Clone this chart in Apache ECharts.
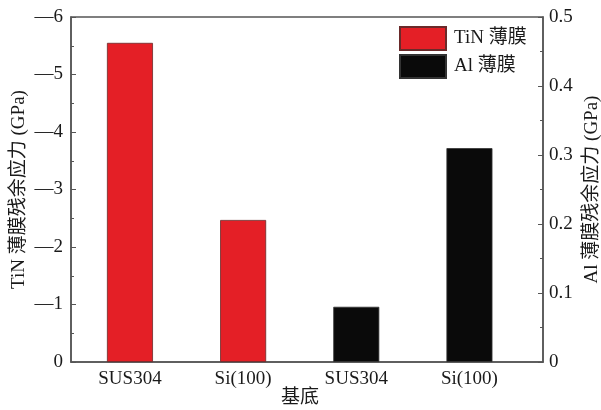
<!DOCTYPE html>
<html>
<head>
<meta charset="utf-8">
<script src="https://cdn.jsdelivr.net/npm/echarts@6/dist/echarts.min.js"></script>
<style>
  html, body { margin: 0; padding: 0; background: #fff; }
  #chart { width: 601px; height: 410px; }
</style>
</head>
<body>
<div id="chart"></div>
<script>
// Substrates along the x axis (positions 1..4)
const substrates = ['SUS304', 'Si(100)', 'SUS304', 'Si(100)'];
// TiN film residual stress (GPa), left axis, on substrates 1 and 2
const tinPositions = [1, 2];
const tinStress = [-5.55, -2.47];
// Al film residual stress (GPa), right axis, on substrates 3 and 4
const alPositions = [3, 4];
const alStress = [0.08, 0.31];
// Tick values
const leftTicks = { min: -6, max: 0, interval: 1 };
const rightTicks = { min: 0, max: 0.5, interval: 0.1 };

const FONT = "'Liberation Serif', 'Times New Roman', 'Noto Sans CJK SC', serif";
const AXIS_COLOR = '#555';
const TEXT_COLOR = '#1a1a1a';

const chart = echarts.init(document.getElementById('chart'));

chart.setOption({
  backgroundColor: '#fff',
  animation: false,
  grid: {
    left: 71, right: 58, top: 17, bottom: 48,
    outerBoundsMode: 'none',
    containLabel: false,
    show: true, borderColor: AXIS_COLOR, borderWidth: 1.5,
    backgroundColor: 'transparent'
  },
  legend: {
    left: 399, top: 26, orient: 'vertical', padding: 0,
    itemWidth: 46, itemHeight: 23, itemGap: 3,
    icon: 'rect',
    textStyle: { fontFamily: FONT, fontSize: 19, color: TEXT_COLOR, padding: [0, 0, 0, 3] },
    data: ['TiN 薄膜', 'Al 薄膜']
  },
  xAxis: {
    type: 'value',
    min: 0.479, max: 4.65,
    splitLine: { show: false },
    axisLine: { show: true, onZero: false, lineStyle: { color: AXIS_COLOR, width: 1.5 } },
    axisTick: { show: false },
    axisLabel: {
      customValues: [1, 2, 3, 4],
      formatter: v => substrates[Math.round(v) - 1] || '',
      fontFamily: FONT, fontSize: 19, color: TEXT_COLOR, margin: 8
    },
    name: '基底',
    nameLocation: 'middle',
    nameGap: 27,
    nameMoveOverlap: false,
    nameTextStyle: { fontFamily: FONT, fontSize: 19, color: TEXT_COLOR, padding: [0, 14, 0, 0] }
  },
  yAxis: [
    {
      type: 'value',
      position: 'left',
      inverse: true,
      min: leftTicks.min, max: leftTicks.max, interval: leftTicks.interval,
      splitLine: { show: false },
      axisLine: { show: true, lineStyle: { color: AXIS_COLOR, width: 1.5 } },
      axisTick: { show: true, inside: true, length: 5, lineStyle: { color: AXIS_COLOR } },
      minorTick: { show: true, splitNumber: 2, length: 3, lineStyle: { color: AXIS_COLOR } },
      axisLabel: {
        formatter: v => (v === 0 ? '0' : '—' + Math.abs(v)),
        fontFamily: FONT, fontSize: 19, color: TEXT_COLOR, margin: 8
      },
      name: 'TiN 薄膜残余应力 (GPa)',
      nameLocation: 'middle',
      nameRotate: 90,
      nameGap: 42,
      nameMoveOverlap: false,
      nameTextStyle: { fontFamily: FONT, fontSize: 19, color: TEXT_COLOR }
    },
    {
      type: 'value',
      position: 'right',
      min: rightTicks.min, max: rightTicks.max, interval: rightTicks.interval,
      splitLine: { show: false },
      axisLine: { show: true, lineStyle: { color: AXIS_COLOR, width: 1.5 } },
      axisTick: { show: true, inside: true, length: 5, lineStyle: { color: AXIS_COLOR } },
      minorTick: { show: true, splitNumber: 2, length: 3, lineStyle: { color: AXIS_COLOR } },
      axisLabel: {
        fontFamily: FONT, fontSize: 19, color: TEXT_COLOR, margin: 6
      },
      name: 'Al 薄膜残余应力 (GPa)',
      nameLocation: 'middle',
      nameRotate: 90,
      nameGap: 40,
      nameMoveOverlap: false,
      nameTextStyle: { fontFamily: FONT, fontSize: 19, color: TEXT_COLOR }
    }
  ],
  series: [
    {
      name: 'TiN 薄膜',
      type: 'bar',
      yAxisIndex: 0,
      barWidth: 46,
      barGap: '-100%',
      itemStyle: { color: '#e41f26', borderColor: '#6a2a2a', borderWidth: 0.8 },
      data: tinPositions.map((p, i) => [p, tinStress[i]])
    },
    {
      name: 'Al 薄膜',
      type: 'bar',
      yAxisIndex: 1,
      barWidth: 46,
      barGap: '-100%',
      itemStyle: { color: '#0a0a0a', borderColor: '#333', borderWidth: 0.8 },
      data: alPositions.map((p, i) => [p, alStress[i]])
    }
  ]
});
</script>
</body>
</html>
